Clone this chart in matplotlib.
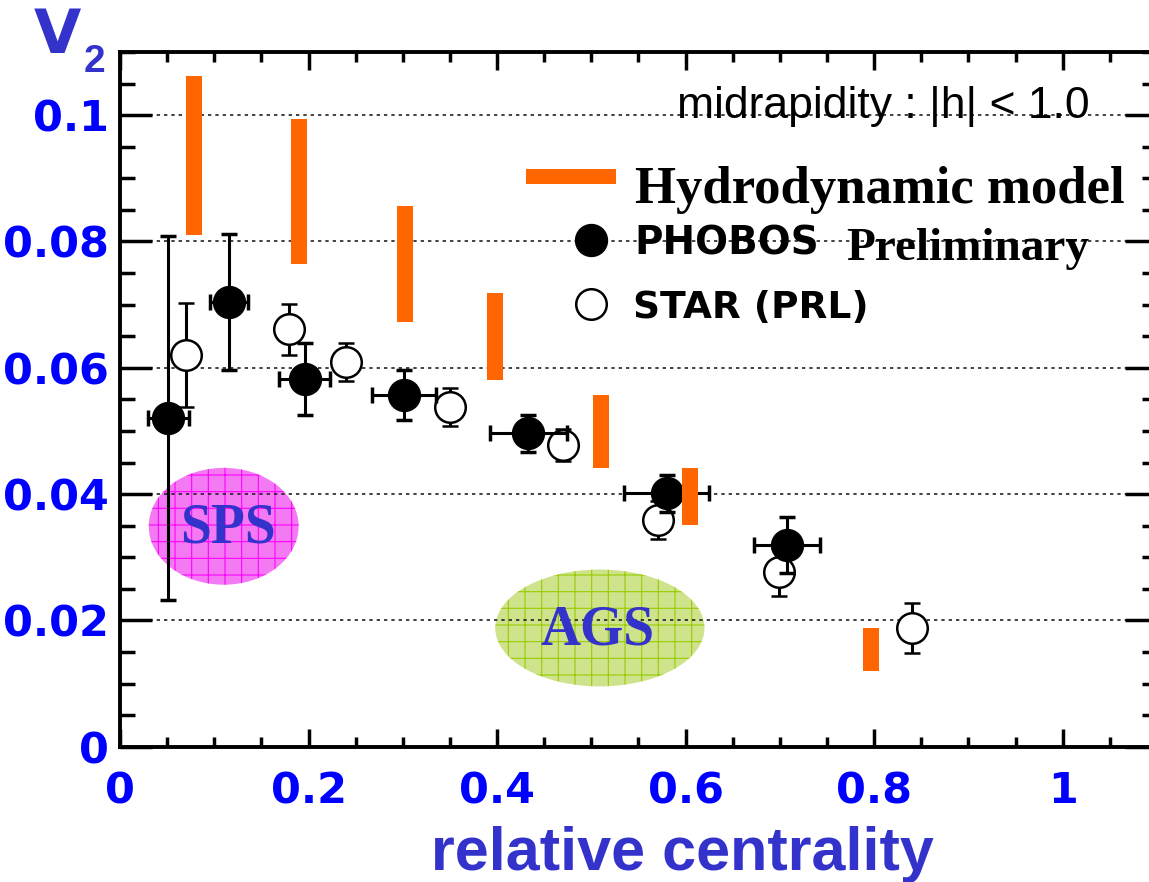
import matplotlib
matplotlib.use('Agg')
import matplotlib.pyplot as plt
from matplotlib import ticker, font_manager
from matplotlib.patches import Ellipse, Rectangle

# hydrodynamic model: band lower / upper edge at each centrality
hydro_x = [0.078, 0.190, 0.302, 0.398, 0.510, 0.605, 0.797]
hydro_lo = [0.0810, 0.0764, 0.0672, 0.0580, 0.0442, 0.0351, 0.0120]
hydro_hi = [0.1062, 0.0994, 0.0856, 0.0718, 0.0557, 0.0442, 0.0188]

# PHOBOS preliminary
phobos_x = [0.0512, 0.1155, 0.196, 0.301, 0.433, 0.580, 0.7075]
phobos_y = [0.0520, 0.0704, 0.0582, 0.0557, 0.0496, 0.0401, 0.0319]
phobos_xerr = [0.0217, 0.020, 0.027, 0.034, 0.041, 0.045, 0.0345]
phobos_yerr = [0.0288, 0.0108, 0.0057, 0.0040, 0.0030, 0.0029, 0.0044]

# STAR (PRL)
star_x = [0.070, 0.179, 0.2395, 0.350, 0.470, 0.5705, 0.6994, 0.840]
star_y = [0.0620, 0.0661, 0.0609, 0.0538, 0.0478, 0.0359, 0.0277, 0.0188]
star_yerr = [0.0082, 0.0040, 0.0030, 0.0030, 0.0025, 0.0030, 0.0038, 0.0040]

blue = '#0000FF'
purple = '#3333CC'
orange = '#FF6600'

plt.rcParams['font.family'] = 'DejaVu Sans'
plt.rcParams['font.weight'] = 'bold'
plt.rcParams['hatch.linewidth'] = 0.8

fig = plt.figure(figsize=(11.49, 8.82), dpi=100)
ax = fig.add_axes([0.10444, 0.15340, 0.90252, 0.78764])

# SPS / AGS regions
ax.add_patch(Ellipse((0.110, 0.0349), 0.159, 0.0185, facecolor='#F47AF4',
                     edgecolor='#FF00FF', hatch='+', linewidth=0, zorder=1))
ax.add_patch(Ellipse((0.509, 0.0188), 0.222, 0.0185, facecolor='#CFE38C',
                     edgecolor='#99CC00', hatch='+', linewidth=0, zorder=1))
ax.text(0.1150, 0.0323, 'SPS', ha='center', va='baseline', color=purple,
        family='Liberation Serif', weight='bold', size=40, zorder=8)
ax.text(0.5069, 0.0162, 'AGS', ha='center', va='baseline', color=purple,
        family='Liberation Serif', weight='bold', size=40, zorder=8)

# data
ax.errorbar(star_x, star_y, yerr=star_yerr, fmt='o', ms=22, mfc='white',
            mec='black', mew=1.8, ecolor='black', elinewidth=2.2,
            capsize=5.5, capthick=2.5, zorder=3)
ax.errorbar(phobos_x, phobos_y, xerr=phobos_xerr, yerr=phobos_yerr, fmt='o',
            ms=23, mfc='black', mec='black', ecolor='black', elinewidth=2.2,
            capsize=5.5, capthick=2.5, zorder=4)
heights = [h - l for h, l in zip(hydro_hi, hydro_lo)]
ax.bar(hydro_x, heights, bottom=hydro_lo, width=0.017, color=orange,
       linewidth=0, zorder=5)

# axes styling
ax.set_xlim(0, 1.1)
ax.set_ylim(0, 0.11)
ax.xaxis.set_major_locator(ticker.MultipleLocator(0.2))
ax.xaxis.set_minor_locator(ticker.MultipleLocator(0.05))
ax.yaxis.set_major_locator(ticker.MultipleLocator(0.02))
ax.yaxis.set_minor_locator(ticker.MultipleLocator(0.005))
fmt = ticker.FuncFormatter(lambda v, p: f'{v:g}')
ax.xaxis.set_major_formatter(fmt)
ax.yaxis.set_major_formatter(fmt)

ax.tick_params(axis='x', which='major', direction='in', length=13, width=2.5,
               top=True, pad=17, labelsize=31, labelcolor=blue)
ax.tick_params(axis='x', which='minor', direction='in', length=7, width=2.5,
               top=True)
ax.tick_params(axis='y', which='major', direction='in', length=23, width=2.5,
               right=True, pad=8, labelsize=31, labelcolor=blue)
ax.tick_params(axis='y', which='minor', direction='in', length=11, width=2.5,
               right=True)
for s in ax.spines.values():
    s.set_linewidth(2.8)

ax.set_axisbelow('line')
ax.grid(axis='y', which='major', color='#222222', linewidth=1.2,
        linestyle=(0, (2, 2.4)))

# legend drawn by hand
ax.add_patch(Rectangle((0.3911, 0.8096), 0.0871, 0.022, color=orange,
                       transform=ax.transAxes, linewidth=0, zorder=6))
ax.text(0.497, 0.7827, 'Hydrodynamic model', transform=ax.transAxes,
        va='baseline', family='Liberation Serif', weight='bold', size=38)
ax.plot([0.4542], [0.7294], 'o', ms=23, color='black', transform=ax.transAxes)
ax.text(0.4957, 0.7078, 'PHOBOS', transform=ax.transAxes, va='baseline',
        size=28, weight='bold')
ax.text(0.7006, 0.7006, 'Preliminary', transform=ax.transAxes, va='baseline',
        family='Liberation Serif', weight='bold', size=34)
ax.plot([0.4542], [0.6373], 'o', ms=22, mfc='white', mec='black', mew=1.8,
        transform=ax.transAxes)
ax.text(0.4943, 0.6167, 'STAR (PRL)', transform=ax.transAxes, va='baseline',
        size=27, weight='bold')

names = {f.name for f in font_manager.fontManager.ttflist}
if 'Liberation Sans Narrow' in names:
    nfam, nsize = 'Liberation Sans Narrow', 40
else:
    nfam, nsize = 'Liberation Sans', 32
ax.text(0.7358, 0.905, 'midrapidity : |h| < 1.0', transform=ax.transAxes,
        ha='center', va='baseline', family=nfam, weight='normal', size=nsize,
        zorder=7)

# axis titles
ax.set_xlabel('relative centrality', family='Liberation Sans', weight='bold',
              size=44, color=purple, va='baseline')
ax.xaxis.set_label_coords(0.5938, 0.0136, transform=fig.transFigure)
fig.text(0.0296, 0.9396, 'V', color=purple, size=44, weight='bold',
         va='baseline')
fig.text(0.0725, 0.9187, '2', color=purple, size=28, weight='bold',
         family='Liberation Sans', va='baseline')

fig.savefig('out.png', dpi=100)
